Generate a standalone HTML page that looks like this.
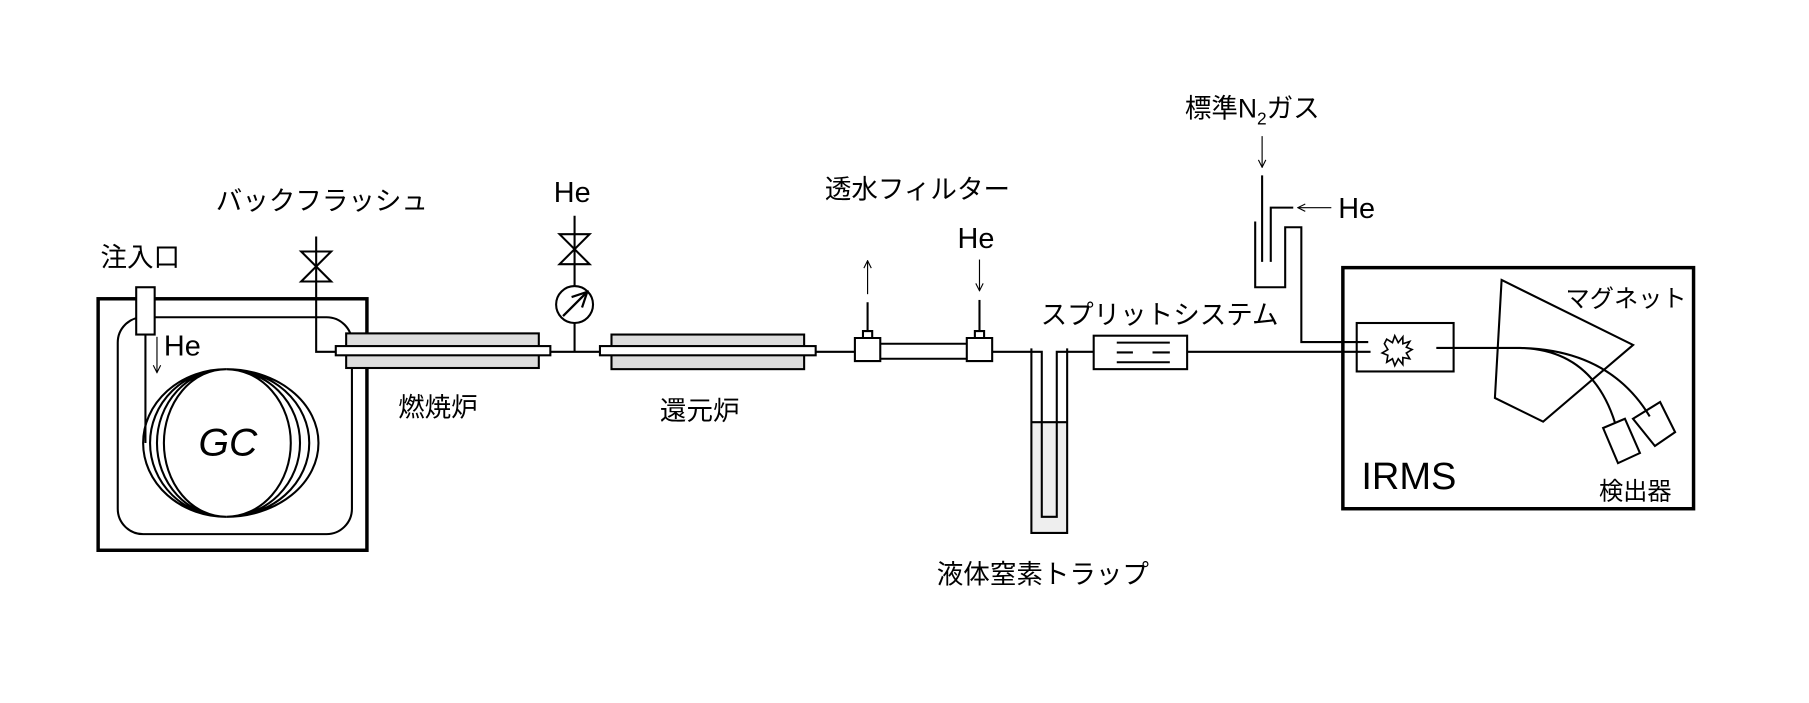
<!DOCTYPE html>
<html><head><meta charset="utf-8"><style>
html,body{margin:0;padding:0;background:#fff;}
svg{display:block}
.j{font-family:"Liberation Sans","Noto Sans CJK JP",sans-serif;font-size:23px;fill:#000}
.h{font-family:"Liberation Sans",sans-serif;font-size:25px;fill:#000}
</style></head><body>
<svg width="1809" height="703" viewBox="0 0 1568 609.4" xmlns="http://www.w3.org/2000/svg" fill="none" stroke="#000" stroke-width="1.8">
<defs><marker id="a" viewBox="0 0 10 10" refX="9" refY="5" markerWidth="8" markerHeight="8" orient="auto"><path d="M1,1 L9,5 L1,9" stroke="#000" stroke-width="1.2" fill="none"/></marker></defs>
<!-- GC -->
<rect x="85" y="259" width="233" height="218" stroke-width="3"/>
<rect x="102" y="275" width="203" height="188" rx="22"/>
<rect x="118" y="249" width="16" height="41" fill="#fff"/>
<line x1="126" y1="290" x2="126" y2="384"/>
<path d="M196,320 A72,64 0 0 0 196,448 M196,320 A66,64 0 0 0 196,448 M196,320 A60,64 0 0 0 196,448 M196,320 A54,64 0 0 0 196,448"/>
<path d="M196,320 A56,64 0 0 1 196,448 M196,320 A64,64 0 0 1 196,448 M196,320 A72,64 0 0 1 196,448 M196,320 A80,64 0 0 1 196,448"/>
<line x1="136" y1="292" x2="136" y2="323" marker-end="url(#a)" stroke-width="1"/>
<text class="h" x="142" y="308" stroke="none">He</text>
<text x="172" y="395" stroke="none" fill="#000" style="font-family:'Liberation Sans',sans-serif;font-size:34px;font-style:italic">GC</text>
<!-- backflush -->
<path d="M274,205 V305 H291"/>
<path d="M261,218 H287 L261,244 H287 Z"/>
<!-- combustion -->
<rect x="300" y="289" width="167" height="30" fill="#ddd"/>
<rect x="291" y="300" width="186" height="8" fill="#fff"/>
<line x1="477" y1="305" x2="520" y2="305"/>
<path d="M498,187 V248 M498,280 V305"/>
<path d="M485,203 H511 L485,229 H511 Z"/>
<circle cx="498" cy="264" r="16"/>
<line x1="488" y1="274" x2="509" y2="253" marker-end="url(#a)" stroke-width="2"/>
<text class="h" x="480" y="175" stroke="none">He</text>
<!-- reduction -->
<rect x="530" y="290" width="167" height="30" fill="#ddd"/>
<rect x="520" y="300" width="187" height="8" fill="#fff"/>
<line x1="707" y1="305" x2="741" y2="305"/>
<!-- filter -->
<path d="M748,293 V287 H756 V293 M741,293 H763 V313 H741 Z" fill="#fff"/>
<path d="M845,293 V287 H853 V293 M838,293 H860 V313 H838 Z" fill="#fff"/>
<path d="M763,298 H838 M763,311 H838" />
<line x1="752" y1="287" x2="752" y2="262"/>
<line x1="752" y1="255" x2="752" y2="226" marker-end="url(#a)" stroke-width="1"/>
<line x1="849" y1="260" x2="849" y2="287"/>
<line x1="849" y1="225" x2="849" y2="252" marker-end="url(#a)" stroke-width="1"/>
<text class="h" x="830" y="215" stroke="none">He</text>
<!-- trap -->
<rect x="895" y="366" width="30" height="96" fill="#eee" stroke="none"/>
<path d="M894,302 V462 H925 V302" />
<line x1="894" y1="366" x2="925" y2="366"/>
<path d="M860,305 H903 V448 H916 V305 H948"/>
<!-- split -->
<rect x="948" y="291" width="81" height="29"/>
<path d="M968,297 H1014 M968,314 H1014 M968,305.5 H982 M999,305.5 H1014"/>
<line x1="1029" y1="305" x2="1188" y2="305"/>
<!-- std gas -->
<path d="M1088,192 V249 H1114 V197 H1128 V296.5 H1186"/>
<path d="M1094,152 V227"/>
<path d="M1101.5,227 V180 H1121"/>
<line x1="1094" y1="118" x2="1094" y2="145" marker-end="url(#a)" stroke-width="1"/>
<line x1="1154" y1="180" x2="1125" y2="180" marker-end="url(#a)" stroke-width="1"/>
<text class="h" x="1160" y="189" stroke="none">He</text>
<!-- IRMS -->
<rect x="1164" y="232" width="304" height="209" stroke-width="3"/>
<rect x="1176" y="280" width="84" height="42"/>
<path d="M1202,294 l5,3 l2,-6 l3,6 l4,-5 l0,6 l6,-2 l-3,5 l5,2 l-5,3 l3,5 l-6,-1 l0,6 l-4,-5 l-3,6 l-2,-6 l-5,3 l1,-6 l-5,-2 l5,-3 l-3,-5 z" stroke-width="1.4"/>
<path d="M1245,301.6 H1317.5 Q1380,303 1400,366.7 M1317.5,301.6 Q1395,303 1430,361"/>
<path d="M1301.6,242.7 L1415.6,299 L1337.6,365.5 L1295.8,345 Z"/>
<path d="M1389.6,371 L1408.5,363 L1421.5,392.7 L1402.5,401.5 Z"/>
<path d="M1415.5,363 L1439,348.5 L1452,374.6 L1434.5,386.6 Z"/>
<text x="1180" y="424" stroke="none" fill="#000" style="font-family:'Liberation Sans',sans-serif;font-size:33px">IRMS</text>
<!-- labels -->
<g stroke="none">
<text class="j" x="187" y="182">バックフラッシュ</text>
<text class="j" x="87" y="231">注入口</text>
<text class="j" x="345" y="361">燃焼炉</text>
<text class="j" x="572" y="364">還元炉</text>
<text class="j" x="715" y="172">透水フィルター</text>
<text class="j" x="902" y="281">スプリットシステム</text>
<text class="j" x="812" y="506">液体窒素トラップ</text>
<text class="j" x="1027" y="102">標準N<tspan font-size="15" dy="6">2</tspan><tspan dy="-6">ガス</tspan></text>
<text class="j" x="1357" y="266" style="font-size:21px">マグネット</text>
<text class="j" x="1386" y="433" style="font-size:21px">検出器</text>
</g>
</svg>
</body></html>
